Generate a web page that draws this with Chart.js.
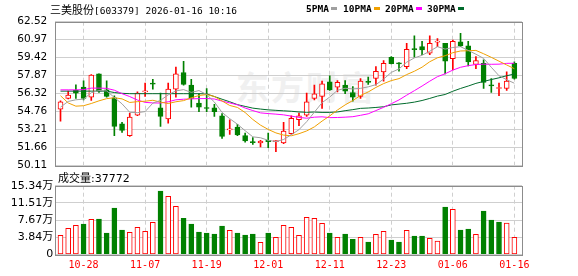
<!DOCTYPE html>
<html>
<head>
<meta charset="utf-8">
<script src="https://cdn.jsdelivr.net/npm/chart.js@4.4.1/dist/chart.umd.min.js"></script>
<style>
    body { margin: 0; background: #fff; }
    #wrap { position: relative; width: 578px; height: 276px; overflow: hidden; }
    canvas { position: absolute; left: 0; }
    .wm { position: absolute; left: 236px; top: 62px; font: bold 33px 'Noto Sans CJK SC'; color: #f0f0f0; letter-spacing: 2px; white-space: nowrap; }
    #title { position: absolute; left: 50px; top: 2px; font: 11px 'Noto Sans CJK SC'; line-height: 14px; white-space: nowrap; color: #000; }
    #title .code { font: 9.5px 'DejaVu Sans Mono'; }
    .item { position: absolute; top: 2px; font: bold 9.5px 'DejaVu Sans Mono'; line-height: 14px; white-space: nowrap; color: #000; }
    .item i { display: inline-block; width: 6px; height: 3px; margin-left: 2px; vertical-align: 2px; }
    #volTitle { position: absolute; left: 58px; top: 170px; font: 11px 'Noto Sans CJK SC'; line-height: 14px; white-space: nowrap; color: #000; }
    #volTitle .num { font: 11px 'DejaVu Sans'; }
</style>
</head>
<body>
<div id="wrap">
    <div class="wm">东方财富</div>
    <canvas id="kChart" width="578" height="170" style="top:0;width:578px;height:170px"></canvas>
    <canvas id="volChart" width="578" height="106" style="top:170px;width:578px;height:106px"></canvas>
    <div id="title">三美股份<span class="code">[603379] 2026-01-16 10:16</span></div>
    <div id="volTitle">成交量<span class="num">:37772</span></div>
</div>
<script>
// ---- data ----
const dates = ['10-23','10-24','10-27','10-28','10-29','10-30','10-31','11-03','11-04','11-05',
    '11-06','11-07','11-10','11-11','11-12','11-13','11-14','11-17','11-18','11-19',
    '11-20','11-21','11-24','11-25','11-26','11-27','11-28','12-01','12-02','12-03',
    '12-04','12-05','12-08','12-09','12-10','12-11','12-12','12-15','12-16','12-17',
    '12-18','12-19','12-22','12-23','12-24','12-25','12-26','12-29','12-30','12-31',
    '01-05','01-06','01-07','01-08','01-09','01-12','01-13','01-14','01-15','01-16'];
const labelIdx = [4, 12, 20, 28, 36, 44, 52, 60];

const opens = [54.97,55.89,56.58,56.86,56.00,58.01,56.63,55.94,53.70,52.67,
    54.45,56.46,57.18,55.08,54.11,56.69,58.13,57.04,55.48,55.05,
    55.08,54.39,53.17,53.42,52.67,52.12,52.04,52.27,52.15,52.04,
    52.84,54.05,54.45,55.89,56.06,57.32,56.86,57.04,56.40,56.06,
    57.30,57.61,58.19,59.45,58.96,58.64,60.16,60.37,59.80,60.76,
    60.66,59.33,60.77,60.43,58.82,58.93,57.01,56.75,56.75,58.93];
const highs = [55.69,56.52,57.07,57.41,57.96,58.01,57.41,56.12,53.82,54.62,
    56.46,57.21,57.55,56.35,57.21,58.59,59.10,57.55,56.29,56.75,
    55.37,54.57,54.05,53.65,52.90,52.50,52.27,52.90,52.27,53.82,
    54.39,54.62,56.35,57.04,57.38,57.84,57.44,57.44,56.92,57.61,
    57.73,58.64,59.16,59.51,58.99,60.66,61.29,60.83,61.29,61.06,
    60.66,60.94,61.52,60.83,59.51,59.22,57.61,57.21,58.19,59.05];
const lows = [53.93,55.85,55.89,55.77,55.72,56.40,56.00,52.67,52.96,52.61,
    54.39,56.06,56.69,53.47,53.76,56.00,57.04,55.14,54.74,54.74,
    54.34,52.44,52.78,52.67,52.10,51.92,51.69,51.64,51.29,51.98,
    52.79,53.53,54.34,55.77,55.02,56.58,56.46,56.29,55.66,55.89,
    57.10,57.04,57.38,58.87,58.24,58.47,59.45,59.68,59.68,60.37,
    58.00,58.36,60.37,58.70,58.47,56.75,56.40,56.12,56.58,57.55];
const closes = [55.60,56.17,56.35,55.89,57.90,56.52,56.06,53.48,53.13,54.28,
    56.35,56.52,57.12,54.34,56.69,58.01,57.10,55.89,55.14,55.02,
    54.74,52.61,53.21,52.73,52.21,52.07,52.21,52.15,52.18,53.07,
    54.16,54.39,55.60,56.29,57.15,56.63,57.27,56.52,56.00,57.38,
    57.27,58.24,58.93,58.90,58.87,60.14,60.11,60.08,60.66,60.80,
    59.10,60.83,60.43,59.05,59.16,57.27,56.98,56.78,57.38,57.61];

const ma5 = [55.14,55.63,55.77,55.83,56.38,56.57,56.54,55.97,55.42,54.69,
    54.66,54.75,55.48,55.72,56.20,56.54,56.65,56.41,56.57,56.23,
    55.58,54.68,54.14,53.66,53.10,52.57,52.49,52.27,52.16,52.34,
    52.75,53.19,53.88,54.70,55.52,56.01,56.59,56.77,56.71,56.76,
    56.89,57.08,57.56,58.14,58.44,59.02,59.39,59.62,59.97,60.36,
    60.15,60.29,60.36,60.04,59.71,59.35,58.58,57.85,57.51,57.20];
const ma10 = [56.12,55.50,55.22,55.26,55.45,55.68,55.87,55.95,55.85,55.54,
    55.61,55.65,55.73,55.57,55.45,55.60,55.70,55.94,56.14,56.22,
    56.06,55.67,55.28,55.11,54.67,54.07,53.58,53.21,52.91,52.72,
    52.66,52.84,53.08,53.43,53.93,54.38,54.89,55.33,55.71,56.14,
    56.45,56.84,57.17,57.43,57.60,57.95,58.24,58.59,59.06,59.40,
    59.58,59.84,59.99,60.01,60.04,59.75,59.44,59.11,58.78,58.46];
const ma20 = [56.63,56.63,56.63,56.65,56.78,56.78,56.76,56.60,56.30,56.05,
    55.75,55.55,55.50,55.49,55.60,55.77,55.82,55.85,55.87,55.88,
    55.84,55.66,55.50,55.34,55.06,54.84,54.64,54.58,54.53,54.47,
    54.36,54.25,54.18,54.27,54.30,54.23,54.24,54.27,54.31,54.43,
    54.56,54.84,55.12,55.43,55.76,56.17,56.56,56.96,57.38,57.77,
    58.02,58.34,58.58,58.72,58.82,58.85,58.84,58.85,58.92,58.93];
const ma30 = [56.52,56.52,56.52,56.52,56.52,56.52,56.52,56.40,56.33,56.30,
    56.30,56.30,56.30,56.30,56.30,56.30,56.30,56.30,56.30,56.28,
    56.05,55.82,55.60,55.35,55.20,55.05,54.97,54.90,54.86,54.82,
    54.78,54.72,54.69,54.71,54.68,54.68,54.72,54.83,54.92,55.03,
    55.06,55.11,55.17,55.33,55.40,55.47,55.57,55.71,55.89,56.09,
    56.23,56.51,56.75,56.96,57.19,57.36,57.52,57.67,57.85,58.00];

// volume in 万 shares
const volumes = [4.25,5.81,6.48,6.78,7.82,7.90,4.76,10.35,5.43,4.92,
    6.04,5.14,7.15,14.15,12.97,10.73,8.05,6.78,4.99,4.76,
    4.54,6.33,5.37,4.76,4.32,4.54,2.68,4.76,3.80,6.48,
    6.04,4.25,8.27,8.05,6.93,4.76,3.80,4.54,3.35,3.80,
    2.75,4.47,5.14,3.20,2.75,5.37,4.09,4.09,3.58,2.97,
    10.58,10.06,5.43,5.66,4.47,9.68,7.67,7.22,7.00,3.78];

const priceTicks = ['50.11','51.66','53.21','54.76','56.32','57.87','59.42','60.97','62.52'];
const volTickValues = [0, 3.835, 7.67, 11.505, 15.34];
const volTickLabels = ['0', '3.84万', '7.67万', '11.51万', '15.34万'];

const maNames = ['5PMA', '10PMA', '20PMA', '30PMA'];
const maColors = ['#a0a0a0', '#f0a000', '#ff00ff', '#006b2c'];
const maSeries = [ma5, ma10, ma20, ma30];

const RED = '#ff0000';
const GREEN = '#008000';
const X_MIN = 0.324, X_MAX = 60.99;

// plot frame round the chart area
const framePlugin = {
    id: 'frame',
    afterDatasetsDraw(chart) {
        const { ctx, chartArea: a } = chart;
        ctx.save();
        ctx.strokeStyle = '#8c8c8c';
        ctx.lineWidth = 1;
        ctx.strokeRect(Math.round(a.left) + 0.5, Math.round(a.top) + 0.5,
            Math.round(a.right - a.left), Math.round(a.bottom - a.top));
        ctx.restore();
    }
};

document.addEventListener('DOMContentLoaded', function() {
    buildLegend();
    renderKChart();
    renderVolChart();
});

function buildLegend() {
    const lefts = [306, 343, 385, 427];
    const box = document.getElementById('wrap');
    maNames.forEach((name, i) => {
        const s = document.createElement('span');
        s.className = 'item';
        s.style.left = lefts[i] + 'px';
        s.innerHTML = name + '<i style="background:' + maColors[i] + '"></i>';
        box.appendChild(s);
    });
}

function xAxis(showLabels) {
    return {
        type: 'linear',
        min: X_MIN,
        max: X_MAX,
        offset: false,
        afterBuildTicks: s => { s.ticks = labelIdx.map(v => ({ value: v })); },
        afterFit: s => {
            s.height = showLabels ? 21.7 : 0;
            s.paddingLeft = 0;
            s.paddingRight = 0;
        },
        ticks: {
            display: showLabels,
            autoSkip: false,
            maxRotation: 0,
            padding: 5,
            color: RED,
            font: { family: 'DejaVu Sans Mono', size: 10 },
            callback: v => dates[v - 1]
        },
        grid: { color: '#cfcfcf', drawTicks: false, offset: false },
        border: { display: false, dash: [4, 3] }
    };
}

function yFit(s) {
    s.width = 55.3;
    s.paddingTop = 0;
    s.paddingBottom = 0;
}

function renderKChart() {
    const ctx = document.getElementById('kChart');
    const up = closes.map((c, i) => c >= opens[i]);

    const lines = maSeries.map((arr, k) => ({
        type: 'line',
        data: arr.map((v, i) => ({ x: i + 1, y: v })),
        borderColor: maColors[k],
        borderWidth: 1,
        pointRadius: 0,
        order: 0
    }));

    new Chart(ctx, {
        type: 'bar',
        data: {
            datasets: [
                ...lines,
                {
                    // candle bodies, open to close
                    data: opens.map((o, i) => ({ x: i + 1, y: [o, closes[i]] })),
                    backgroundColor: up.map(u => u ? '#ffffff' : GREEN),
                    borderColor: up.map(u => u ? RED : GREEN),
                    borderWidth: 1,
                    borderSkipped: false,
                    barThickness: 5,
                    minBarLength: 1,
                    grouped: false,
                    order: 1
                },
                {
                    // wicks, low to high
                    data: lows.map((l, i) => ({ x: i + 1, y: [l, highs[i]] })),
                    backgroundColor: up.map(u => u ? RED : GREEN),
                    borderWidth: 0,
                    barThickness: 1,
                    grouped: false,
                    order: 2
                }
            ]
        },
        options: {
            responsive: false,
            animation: false,
            events: [],
            layout: { padding: { top: 21.7, bottom: 4.7, left: 0, right: 56 } },
            plugins: { legend: { display: false }, tooltip: { enabled: false } },
            scales: {
                x: xAxis(false),
                y: {
                    min: 50.11,
                    max: 62.52,
                    afterBuildTicks: s => { s.ticks = priceTicks.map(v => ({ value: parseFloat(v) })); },
                    afterFit: yFit,
                    ticks: {
                        padding: 8,
                        color: '#000',
                        font: { family: 'DejaVu Sans', size: 10.5 },
                        callback: v => v.toFixed(2)
                    },
                    grid: { color: '#cfcfcf', drawTicks: false },
                    border: { display: false }
                }
            }
        },
        plugins: [framePlugin]
    });
}

function renderVolChart() {
    const ctx = document.getElementById('volChart');
    // bar colour follows close against the previous close
    const rise = closes.map((c, i) => i === 0 || c >= closes[i - 1]);

    new Chart(ctx, {
        type: 'bar',
        data: {
            datasets: [{
                data: volumes.map((v, i) => ({ x: i + 1, y: v })),
                backgroundColor: rise.map(r => r ? '#ffffff' : GREEN),
                borderColor: rise.map(r => r ? RED : GREEN),
                borderWidth: 1,
                borderSkipped: false,
                barThickness: 5,
                grouped: false
            }]
        },
        options: {
            responsive: false,
            animation: false,
            events: [],
            layout: { padding: { top: 15.7, bottom: 0, left: 0, right: 56 } },
            plugins: { legend: { display: false }, tooltip: { enabled: false } },
            scales: {
                x: xAxis(true),
                y: {
                    min: 0,
                    max: 15.34,
                    afterBuildTicks: s => { s.ticks = volTickValues.map(v => ({ value: v })); },
                    afterFit: yFit,
                    ticks: {
                        padding: 2,
                        color: '#000',
                        font: { family: "'DejaVu Sans', 'Noto Sans CJK SC'", size: 11 },
                        callback: (v, i) => volTickLabels[i]
                    },
                    grid: { color: '#cfcfcf', drawTicks: false },
                    border: { display: false }
                }
            }
        },
        plugins: [framePlugin]
    });
}
</script>
</body>
</html>
